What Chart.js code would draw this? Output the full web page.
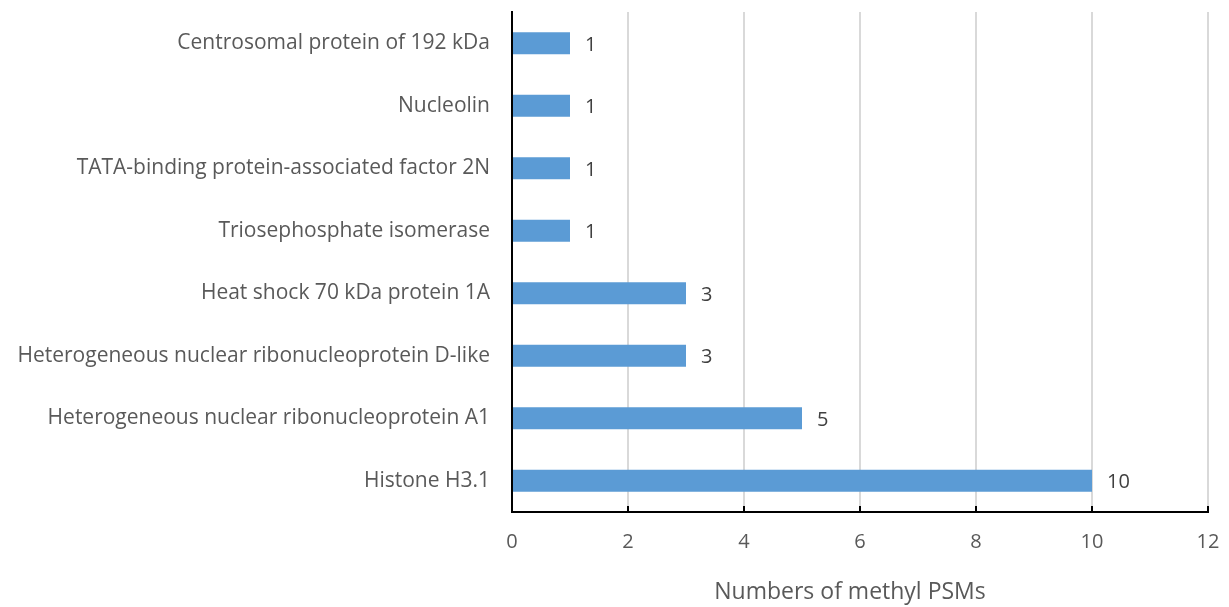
<!DOCTYPE html>
<html>
<head>
<meta charset="utf-8">
<script src="https://cdn.jsdelivr.net/npm/chart.js@4.4.1/dist/chart.umd.min.js"></script>
<style>
  html, body { margin: 0; padding: 0; background: #ffffff; }
  #wrap { width: 1229px; height: 607px; position: relative; }
</style>
</head>
<body>
<div id="wrap"><canvas id="chart" width="1229" height="607"></canvas></div>
<script>
const proteins = [
  "Centrosomal protein of 192 kDa",
  "Nucleolin",
  "TATA-binding protein-associated factor 2N",
  "Triosephosphate isomerase",
  "Heat shock 70 kDa protein 1A",
  "Heterogeneous nuclear ribonucleoprotein D-like",
  "Heterogeneous nuclear ribonucleoprotein A1",
  "Histone H3.1"
];
const methylPSMs = [1, 1, 1, 1, 3, 3, 5, 10];
const xTicks = [0, 2, 4, 6, 8, 10, 12];
const axisTitle = "Numbers of methyl PSMs";

const FONT = "Open Sans";

// value labels just past the end of each bar
const valueLabels = {
  id: 'valueLabels',
  afterDatasetsDraw(chart) {
    const ctx = chart.ctx;
    const meta = chart.getDatasetMeta(0);
    ctx.save();
    ctx.font = '20px "' + FONT + '"';
    ctx.fillStyle = '#404040';
    ctx.textAlign = 'left';
    ctx.textBaseline = 'middle';
    meta.data.forEach((bar, i) => {
      ctx.fillText(String(methylPSMs[i]), bar.x + 15, bar.y + 2);
    });
    ctx.restore();
  }
};

// short inward tick marks on the value axis, plus the axis title
const innerTicks = {
  id: 'innerTicks',
  afterDraw(chart) {
    const ctx = chart.ctx;
    const xs = chart.scales.x;
    const area = chart.chartArea;
    ctx.save();
    ctx.strokeStyle = '#000000';
    ctx.lineWidth = 2;
    xTicks.forEach(v => {
      if (v === 0) return;
      const px = Math.round(xs.getPixelForValue(v));
      ctx.beginPath();
      ctx.moveTo(px, area.bottom);
      ctx.lineTo(px, area.bottom - 6);
      ctx.stroke();
    });
    ctx.font = '23px "' + FONT + '"';
    ctx.fillStyle = '#595959';
    ctx.textAlign = 'center';
    ctx.textBaseline = 'middle';
    ctx.fillText(axisTitle, (area.left + area.right) / 2 - 10, area.bottom + 80);
    ctx.restore();
  }
};

new Chart(document.getElementById('chart'), {
  type: 'bar',
  data: {
    labels: proteins,
    datasets: [{
      data: methylPSMs,
      backgroundColor: '#5B9BD5',
      borderWidth: 0,
      barPercentage: 0.35,
      categoryPercentage: 1.0
    }]
  },
  options: {
    indexAxis: 'y',
    responsive: false,
    animation: false,
    devicePixelRatio: 1,
    layout: { padding: { top: 12, right: 21, bottom: 0, left: 0 } },
    plugins: {
      legend: { display: false },
      tooltip: { enabled: false }
    },
    scales: {
      x: {
        min: 0,
        max: 12,
        afterBuildTicks(scale) { scale.ticks = xTicks.map(v => ({ value: v })); },
        grid: { color: '#d9d9d9', lineWidth: 2, drawTicks: false },
        border: { display: true, color: '#000000', width: 2 },
        ticks: {
          color: '#595959',
          font: { family: FONT, size: 20 },
          padding: 18
        },
        afterFit(scale) {
          scale.height = 95;
          scale.paddingLeft = 0;
          scale.paddingRight = 0;
        }
      },
      y: {
        grid: { display: false, drawTicks: false },
        border: { display: true, color: '#000000', width: 2 },
        ticks: {
          color: '#595959',
          font: { family: FONT, size: 21 },
          padding: 22
        },
        afterFit(scale) {
          scale.width = 512;
          scale.paddingTop = 0;
          scale.paddingBottom = 0;
        }
      }
    }
  },
  plugins: [valueLabels, innerTicks]
});
</script>
</body>
</html>
